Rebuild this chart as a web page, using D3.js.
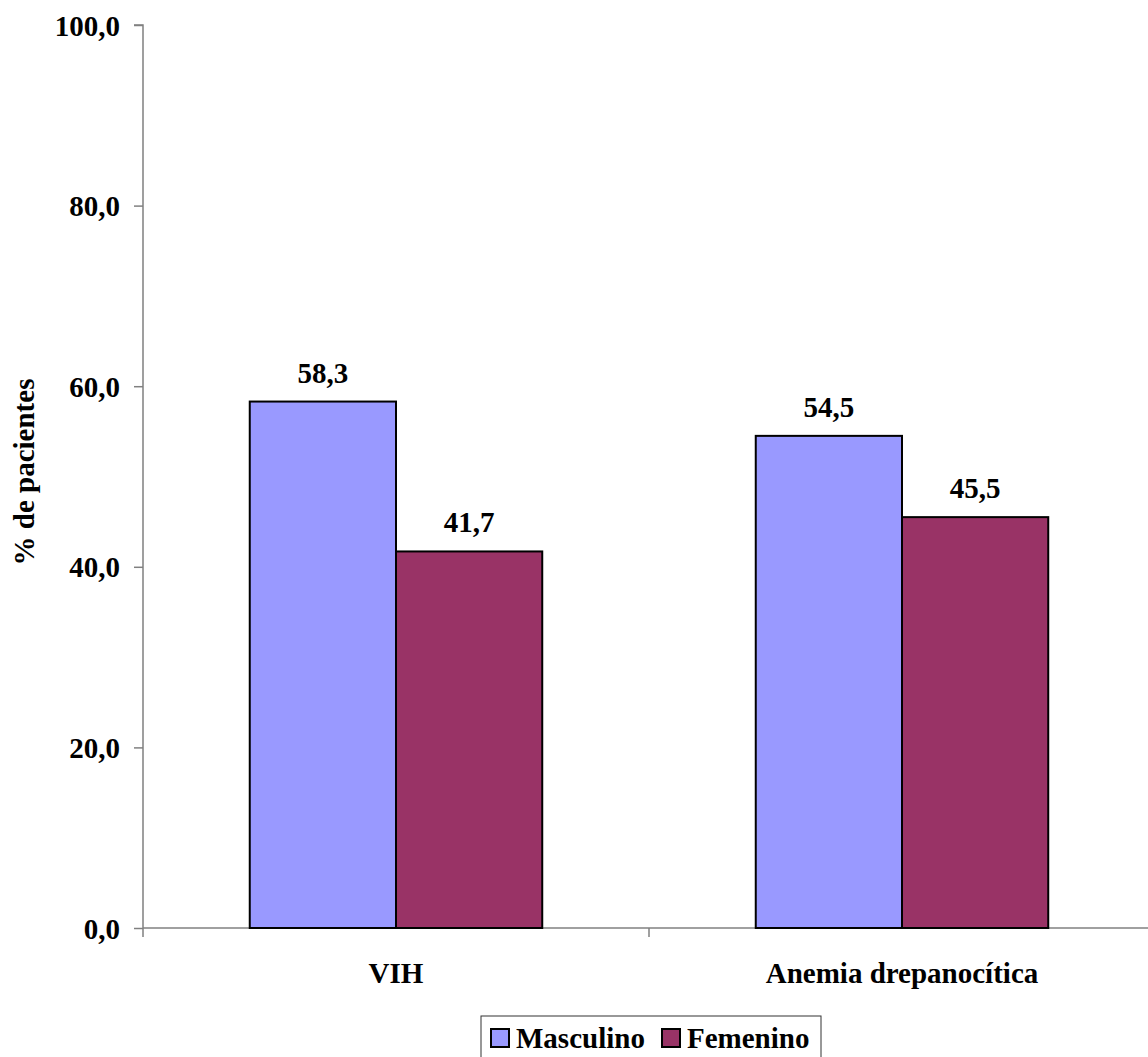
<!DOCTYPE html>
<html>
<head>
<meta charset="utf-8">
<script src="https://cdn.jsdelivr.net/npm/d3@7"></script>
<style>
  html, body { margin: 0; padding: 0; background: #fff; }
  svg { display: block; }
</style>
</head>
<body>
<svg id="chart" width="1148" height="1057"></svg>
<script>
const categories = ["VIH", "Anemia drepanocítica"];
const seriesNames = ["Masculino", "Femenino"];
const masculino = [58.3, 54.5];
const femenino = [41.7, 45.5];
const yTickValues = [0, 20, 40, 60, 80, 100];
const seriesColors = ["#9999FF", "#993366"];

const FONT = "'Liberation Serif', 'Times New Roman', Tinos, 'DejaVu Serif', serif";
const svg = d3.select("#chart");
const plot = { left: 143, right: 1155, top: 25, bottom: 928 };
const fontSize = 29;
const fmt = v => d3.format(".1f")(v).replace(".", ",");

function styleText(sel) {
  sel.attr("font-family", FONT)
    .style("font-family", FONT)
    .attr("font-weight", "bold")
    .style("font-size", fontSize + "px")
    .attr("fill", "#000");
}

const x = d3.scaleBand().domain(categories).range([plot.left, plot.right]);
const inner = d3.scaleBand().domain(seriesNames)
  .range([0, x.bandwidth()]).paddingInner(0).paddingOuter(0.73);
const y = d3.scaleLinear().domain([0, 100]).range([plot.bottom, plot.top]);

const values = { Masculino: masculino, Femenino: femenino };

// Y axis
const yAxis = svg.append("g")
  .attr("transform", `translate(${plot.left},0)`)
  .call(d3.axisLeft(y).tickValues(yTickValues).tickSize(9).tickPadding(14).tickFormat(fmt));
yAxis.attr("font-family", FONT);
yAxis.select(".domain").attr("stroke", "#808080").attr("stroke-width", 1.5)
  .attr("d", `M-9,${plot.top}H0V${plot.bottom + 9}`);
yAxis.selectAll(".tick line").attr("stroke", "#808080").attr("stroke-width", 1.5);
yAxis.selectAll(".tick text").call(styleText).attr("dy", "0.35em");

// X axis
const xAxis = svg.append("g")
  .attr("transform", `translate(0,${plot.bottom})`)
  .call(d3.axisBottom(x).tickSize(0).tickPadding(34));
xAxis.attr("font-family", FONT);
xAxis.select(".domain").attr("stroke", "#808080").attr("stroke-width", 1.5)
  .attr("d", `M${plot.left},0H${plot.right}`);
xAxis.selectAll(".tick text").call(styleText);
// category separators
svg.append("g").selectAll("line")
  .data(categories.slice(1))
  .join("line")
  .attr("x1", d => x(d)).attr("x2", d => x(d))
  .attr("y1", plot.bottom).attr("y2", plot.bottom + 9)
  .attr("stroke", "#808080").attr("stroke-width", 1.5);

// Bars
const groups = svg.append("g").selectAll("g")
  .data(categories)
  .join("g")
  .attr("transform", d => `translate(${x(d)},0)`);

groups.selectAll("rect")
  .data((c, i) => seriesNames.map((s, k) => ({ s, v: values[s][i], color: seriesColors[k] })))
  .join("rect")
  .attr("x", d => inner(d.s))
  .attr("width", inner.bandwidth())
  .attr("y", d => y(d.v))
  .attr("height", d => y(0) - y(d.v))
  .attr("fill", d => d.color)
  .attr("stroke", "#000")
  .attr("stroke-width", 2);

groups.selectAll("text.val")
  .data((c, i) => seriesNames.map(s => ({ s, v: values[s][i] })))
  .join("text")
  .attr("class", "val")
  .attr("x", d => inner(d.s) + inner.bandwidth() / 2)
  .attr("y", d => y(d.v) - 19)
  .attr("text-anchor", "middle")
  .call(styleText)
  .text(d => fmt(d.v));

// Y axis title
svg.append("text")
  .attr("transform", "translate(34,472) rotate(-90)")
  .attr("text-anchor", "middle")
  .call(styleText)
  .text("% de pacientes");

// Legend
const legend = svg.append("g").attr("transform", "translate(481,1016)");
legend.append("rect")
  .attr("x", 0).attr("y", 0).attr("width", 340).attr("height", 46)
  .attr("fill", "#fff").attr("stroke", "#333").attr("stroke-width", 1);
const legendX = [10, 181];
const items = legend.selectAll("g.item")
  .data(seriesNames)
  .join("g")
  .attr("class", "item")
  .attr("transform", (d, i) => `translate(${legendX[i]},0)`);
items.append("rect")
  .attr("x", 0).attr("y", 13).attr("width", 18).attr("height", 18)
  .attr("fill", (d, i) => seriesColors[i])
  .attr("stroke", "#000").attr("stroke-width", 2);
items.append("text")
  .attr("x", 25).attr("y", 32)
  .call(styleText)
  .text(d => d);
</script>
</body>
</html>
